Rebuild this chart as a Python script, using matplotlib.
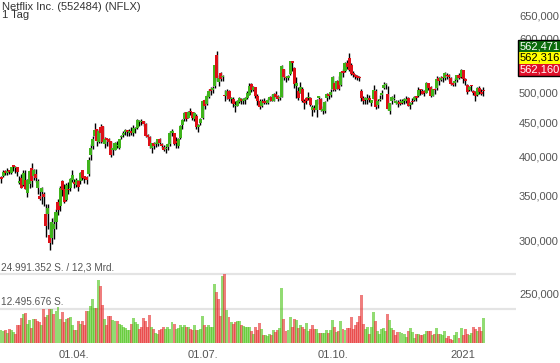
import numpy as np
import pandas as pd
import matplotlib
matplotlib.use("Agg")
import matplotlib.pyplot as plt
from matplotlib.patches import Rectangle

plt.rcParams['font.family'] = ['Liberation Sans', 'DejaVu Sans']

title = "Netflix Inc. (552484) (NFLX)"
subtitle = "1 Tag"
turnover_label = "12,3 Mrd."

holidays = ["2020-02-17", "2020-04-10", "2020-05-25", "2020-07-03", "2020-09-07",
            "2020-11-26", "2020-12-25", "2021-01-01", "2021-01-18"]

# daily candles, one row per month (Feb 2020 .. Jan 2021)
opens = [
    372, 375, 381, 378, 381, 379, 388, 385, 386, 366, 372, 363, 370, 353,
    364, 385, 374, 377, 359, 350, 355, 352, 329, 329, 306, 303, 312, 320, 342, 338, 368, 358, 345, 358, 360, 370,
    367, 363, 368, 368, 382, 374, 373, 377, 402, 416, 430, 440, 421, 444, 445, 418, 425, 425, 422, 410, 410,
    415, 413, 428, 432, 436, 437, 434, 438, 434, 440, 442, 451, 451, 452, 448, 432, 428, 413, 419, 418,
    418, 425, 418, 414, 411, 414, 418, 435, 434, 422, 415, 427, 446, 455, 466, 458, 468, 466, 455, 461, 443, 449,
    457, 486, 480, 492, 506, 504, 510, 567, 517, 533, 526, 495, 494, 501, 488, 488, 476, 476, 483, 488, 485, 486,
    489, 495, 514, 504, 508, 493, 484, 477, 485, 483, 482, 487, 492, 485, 497, 494, 489, 492, 541, 525, 524,
    532, 556, 543, 511, 501, 498, 506, 485, 489, 489, 490, 470, 474, 470, 490, 488, 469, 469, 490, 497, 495,
    506, 516, 506, 519, 512, 537, 537, 553, 562, 548, 534, 530, 528, 525, 501, 490, 487, 487, 490, 482, 488, 502,
    478, 486, 495, 507, 512, 497, 469, 484, 488, 482, 480, 482, 481, 485, 485, 490, 478, 484, 486, 492,
    494, 504, 502, 500, 498, 515, 508, 494, 505, 507, 524, 521, 526, 525, 531, 528, 524, 515, 516, 521, 530, 526,
    539, 521, 513, 503, 511, 500, 500, 495, 507, 500, 503,
]
highs = [
    375, 383, 382, 385, 383, 387, 388, 388, 386, 375, 377, 383, 382, 371,
    382, 392, 384, 384, 371, 358, 361, 355, 340, 340, 320, 324, 325, 335, 346, 362, 370, 364, 366, 367, 372, 382,
    371, 372, 370, 380, 382, 375, 374, 400, 418, 430, 449, 441, 441, 448, 445, 428, 426, 427, 423, 413, 421,
    423, 426, 432, 437, 440, 438, 440, 444, 446, 444, 456, 454, 456, 453, 450, 433, 430, 419, 421, 423,
    426, 427, 420, 417, 417, 419, 437, 440, 435, 428, 427, 446, 455, 467, 467, 468, 473, 467, 467, 463, 448, 457,
    487, 488, 496, 506, 508, 510, 549, 575, 530, 536, 531, 503, 505, 503, 492, 491, 484, 486, 491, 490, 490, 491,
    502, 515, 515, 510, 509, 497, 488, 488, 490, 487, 490, 494, 496, 498, 501, 495, 494, 549, 542, 528, 530,
    557, 557, 545, 526, 508, 518, 509, 488, 492, 500, 491, 478, 478, 488, 494, 489, 477, 484, 498, 498, 505,
    529, 520, 521, 529, 537, 541, 554, 558, 571, 552, 537, 532, 530, 528, 506, 493, 491, 496, 495, 487, 513, 505,
    488, 495, 504, 518, 515, 510, 481, 494, 496, 487, 486, 488, 488, 489, 493, 491, 483, 489, 494, 493,
    508, 506, 506, 504, 517, 516, 510, 506, 507, 528, 526, 528, 527, 536, 533, 532, 526, 517, 524, 531, 533, 541,
    540, 524, 514, 511, 513, 504, 501, 509, 511, 506, 509,
]
lows = [
    366, 373, 376, 376, 377, 377, 381, 379, 374, 365, 359, 362, 358, 348,
    360, 361, 369, 367, 352, 345, 340, 338, 304, 312, 290, 297, 302, 312, 328, 332, 350, 341, 344, 352, 356, 367,
    360, 361, 356, 364, 369, 366, 364, 374, 396, 411, 428, 415, 420, 420, 420, 413, 416, 415, 400, 403, 409,
    412, 411, 425, 428, 432, 430, 430, 432, 430, 434, 440, 445, 447, 445, 428, 425, 413, 406, 411, 414,
    415, 418, 412, 408, 405, 410, 416, 430, 417, 412, 412, 425, 441, 453, 452, 457, 462, 454, 453, 441, 436, 447,
    456, 472, 478, 489, 495, 498, 507, 520, 510, 520, 520, 484, 488, 485, 482, 475, 466, 476, 481, 480, 480, 480,
    488, 495, 500, 501, 490, 478, 471, 475, 480, 479, 480, 485, 484, 484, 490, 484, 486, 492, 521, 517, 521,
    531, 537, 507, 489, 487, 498, 483, 472, 479, 487, 476, 461, 466, 459, 479, 469, 464, 465, 485, 488, 492,
    502, 501, 506, 504, 511, 527, 535, 541, 537, 530, 527, 523, 521, 519, 484, 479, 480, 480, 483, 476, 486, 472,
    474, 484, 488, 505, 505, 470, 464, 480, 486, 479, 475, 478, 480, 479, 482, 476, 471, 480, 484, 484,
    491, 495, 496, 494, 498, 504, 491, 493, 497, 504, 513, 519, 518, 521, 522, 520, 513, 510, 511, 517, 522, 525,
    515, 512, 497, 501, 501, 495, 485, 493, 497, 495, 493,
]
closes = [
    371, 380, 379, 381, 380, 386, 387, 386, 380, 368, 360, 379, 358, 369,
    381, 368, 383, 372, 368, 346, 360, 349, 315, 336, 298, 320, 318, 331, 333, 360, 357, 343, 363, 357, 371, 376,
    364, 370, 361, 379, 372, 371, 370, 396, 413, 426, 439, 422, 437, 434, 421, 426, 424, 421, 403, 411, 419,
    415, 425, 430, 434, 436, 436, 438, 434, 442, 442, 454, 452, 451, 448, 430, 429, 415, 419, 416, 419,
    425, 419, 415, 410, 413, 418, 435, 435, 418, 419, 425, 445, 454, 465, 455, 467, 466, 457, 465, 443, 447, 455,
    485, 476, 493, 502, 502, 507, 548, 525, 524, 523, 527, 493, 502, 488, 490, 480, 477, 484, 489, 485, 486, 489,
    499, 510, 503, 509, 494, 484, 475, 485, 482, 482, 486, 492, 485, 497, 492, 488, 492, 547, 526, 524, 529,
    556, 552, 514, 516, 490, 509, 484, 482, 484, 490, 478, 475, 470, 487, 490, 470, 470, 483, 497, 494, 500,
    527, 503, 520, 505, 535, 533, 552, 545, 540, 532, 530, 527, 525, 524, 489, 485, 488, 488, 486, 486, 504, 475,
    484, 487, 496, 513, 513, 471, 481, 491, 489, 482, 480, 480, 484, 485, 488, 477, 482, 483, 491, 490,
    504, 503, 497, 499, 515, 507, 494, 505, 503, 523, 519, 524, 524, 534, 528, 527, 514, 513, 519, 530, 524, 540,
    522, 520, 500, 508, 510, 499, 494, 507, 500, 497, 501,
]
# volume in millions of shares
volumes = [
    4.6, 4.4, 4.6, 3.6, 5.2, 4.6, 4.0, 3.4, 6.6, 6.4, 9.1, 10.6, 10.9, 7.0,
    8.5, 5.4, 8.6, 8.8, 7.9, 7.6, 6.4, 12.2, 9.4, 10.3, 12.4, 12.4, 10.6, 11.5, 13.0, 8.6, 11.2, 7.6, 8.8, 9.1, 9.4, 6.6,
    4.8, 4.8, 7.9, 7.0, 7.9, 6.6, 11.5, 11.5, 13.6, 16.1, 12.7, 12.7, 23.1, 20.9, 13.9, 8.8, 6.4, 10.0, 9.7, 8.2, 7.9,
    7.9, 7.0, 6.4, 6.0, 5.4, 4.8, 4.8, 7.0, 9.1, 7.6, 7.0, 5.2, 5.8, 9.1, 7.9, 5.8, 10.3, 5.8, 5.2, 3.6,
    3.4, 4.6, 5.2, 5.8, 5.2, 5.8, 5.2, 7.6, 7.0, 5.2, 5.4, 6.4, 5.8, 6.4, 6.0, 5.8, 5.2, 4.6, 6.4, 4.9, 4.6, 5.0,
    9.7, 6.4, 5.8, 6.6, 5.8, 5.8, 21.5, 18.7, 16.1, 10.0, 24.3, 24.991352, 12.1, 9.4, 7.6, 7.0, 7.6, 7.9, 7.9, 6.6, 6.2, 5.8,
    6.0, 5.7, 4.2, 3.4, 5.8, 4.6, 7.2, 5.2, 2.8, 2.8, 2.4, 3.4, 3.0, 4.8, 4.0, 4.6, 5.6, 20.1, 8.8, 4.2, 4.8,
    9.4, 5.8, 8.8, 8.2, 5.4, 6.6, 6.0, 5.0, 7.2, 4.2, 5.2, 6.6, 5.2, 5.2, 3.6, 3.6, 3.6, 3.6, 4.6, 3.6, 4.6,
    8.2, 6.0, 4.0, 4.2, 7.9, 5.2, 4.6, 5.4, 5.4, 9.4, 5.2, 6.4, 7.6, 10.0, 17.3, 7.0, 5.2, 6.0, 3.4, 6.0, 11.2, 7.9,
    4.2, 3.4, 5.2, 5.4, 4.2, 10.6, 8.2, 5.4, 4.8, 2.8, 4.0, 4.0, 3.6, 3.4, 2.2, 4.2, 5.4, 4.0, 2.0, 3.4,
    3.4, 3.0, 2.8, 3.4, 4.2, 4.2, 4.2, 3.0, 3.4, 5.4, 3.4, 3.4, 3.0, 4.2, 1.8, 2.4, 1.6, 1.1, 2.8, 4.0, 1.8, 5.4,
    3.0, 5.2, 3.4, 2.8, 3.8, 6.0, 5.2, 4.2, 5.8, 4.5, 9.2,
]

price_ticks = [250, 300, 350, 400, 450, 500, 550, 600, 650]
date_ticks = ["2020-04-01", "2020-07-01", "2020-10-01", "2021-01-01"]
date_labels = ["01.04.", "01.07.", "01.10.", "2021"]
quotes = [562.471, 562.316, 562.160]
quote_colors = [("#0b6b0b", "white"), ("#ffff00", "black"), ("#e0102a", "white")]

dates = pd.bdate_range("2020-02-10", "2021-01-19")
dates = dates[~dates.isin(pd.to_datetime(holidays))]

o = np.array(opens, float)
h = np.array(highs, float)
l = np.array(lows, float)
c = np.array(closes, float)
v = np.array(volumes) * 1e6
n = len(c)
x = np.arange(n)

W, H = 560, 363
fig = plt.figure(figsize=(W / 100, H / 100), dpi=100)
ax_v = fig.add_axes([0, 20 / H, 516 / W, 343 / H])
ax_p = ax_v.twinx()

# volume, coloured by change against previous close
green_v, red_v = "#50c51e", "#e62f2f"
vol_up = np.r_[True, c[1:] >= c[:-1]]
ax_v.bar(x, v, width=1.45, color=np.where(vol_up, green_v, red_v), alpha=0.62, linewidth=0)
vmax = v.max()
for lvl, txt in [(vmax, f"{int(round(vmax)):,}".replace(",", ".") + " S. / " + turnover_label),
                 (vmax / 2, f"{int(round(vmax / 2)):,}".replace(",", ".") + " S.")]:
    ax_v.axhline(lvl, color="#e4e4e4", lw=1.6, zorder=0)
    ax_v.annotate(txt, (0, lvl), xycoords=("axes fraction", "data"), xytext=(0.5, 1.2),
                  textcoords="offset points", fontsize=7.2, color="#555555", va="bottom", ha="left")
ax_v.set_ylim(0, 124.8e6)
ax_v.set_yticks([])

# candles
up = c >= o
body_lo = np.minimum(o, c)
body_hi = np.maximum(np.maximum(o, c), body_lo * np.exp(1.5 / 291))
ax_p.vlines(x, l, h, color="black", lw=1.0, zorder=2)
ax_p.bar(x, body_hi - body_lo, bottom=body_lo, width=1.5,
         color=np.where(up, "#3fb41c", "#dd1018"), linewidth=0, zorder=3)
ax_p.set_yscale("log")
ax_p.set_ylim(211, 686)
ax_p.set_yticks(price_ticks, [f"{p:.3f}".replace(".", ",") for p in price_ticks])
ax_p.set_yticks([], minor=True)
ax_p.tick_params(axis="y", length=0, pad=2.2, labelsize=8, colors="#555555")

ax_v.set_xlim(-0.5, 253)
tick_pos = [int(np.searchsorted(dates, pd.Timestamp(d))) for d in date_ticks]
ax_v.set_xticks(tick_pos, date_labels)
ax_v.tick_params(axis="x", length=0, pad=5, labelsize=8, colors="#555555")
for a in (ax_v, ax_p):
    for s in a.spines.values():
        s.set_visible(False)

fig.text(2 / W, 1 - 7.5 / H, title, fontsize=8, color="#333333", va="center")
fig.text(2 / W, 1 - 15.5 / H, subtitle, fontsize=8, color="#333333", va="center")

# last quote boxes, stacked around the middle quote
y_mid = ax_p.transData.transform((0, quotes[1]))[1]
bh, x0, bw = 11.8, 518, 43
for k, (q, (bg, fg)) in enumerate(zip(quotes, quote_colors)):
    yc = y_mid + (1 - k) * bh
    fig.patches.append(Rectangle((x0 / W, (yc - bh / 2) / H), bw / W, bh / H,
                                 transform=fig.transFigure, facecolor=bg, edgecolor="none", zorder=2))
    fig.text((x0 + 1.5) / W, yc / H, f"{q:.3f}".replace(".", ","), color=fg, fontsize=8,
             va="center", ha="left", zorder=4)
fig.patches.append(Rectangle((x0 / W, (y_mid - 1.5 * bh) / H), bw / W, 3 * bh / H,
                             transform=fig.transFigure, fill=False, edgecolor="black", lw=1, zorder=3))

fig.savefig("out.png", dpi=100)
